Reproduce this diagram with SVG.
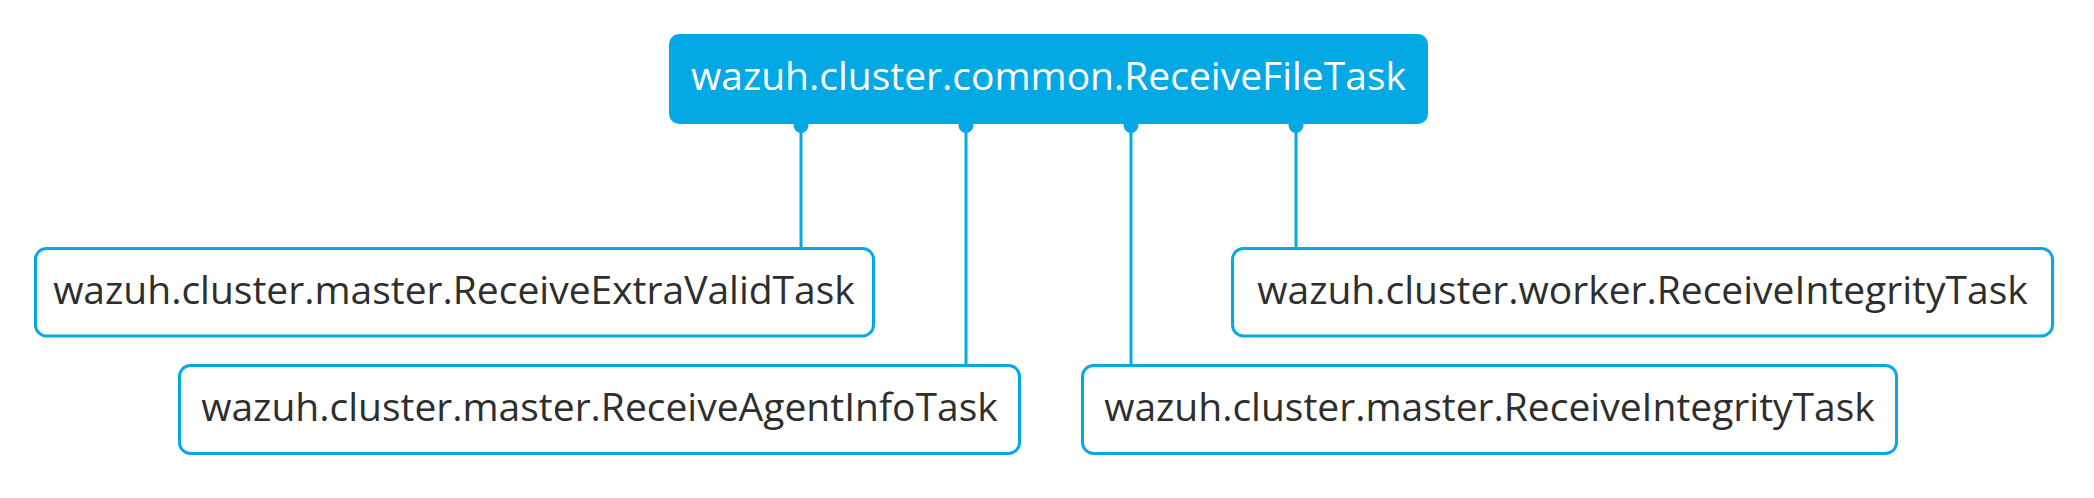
<svg xmlns="http://www.w3.org/2000/svg" width="2094" height="498" viewBox="0 0 2094 498">
  <style>
    .node rect { fill: #ffffff; stroke: #02a9e5; stroke-width: 3; }
    .root rect { fill: #02a9e5; stroke: none; }
    text { font-family: "Open Sans", "Noto Sans", "DejaVu Sans", sans-serif; font-size: 39px; text-anchor: middle; fill: #2e2e2e; }
    .root text { fill: #ffffff; }
    .edge line { stroke: #02a9e5; stroke-width: 3; }
    .edge circle { fill: #02a9e5; }
  </style>
  <rect x="0" y="0" width="2094" height="498" fill="#ffffff"/>
  <g id="connectors" class="edge">
    <line x1="801" y1="124" x2="801" y2="248"/>
    <line x1="966" y1="124" x2="966" y2="365"/>
    <line x1="1131" y1="124" x2="1131" y2="365"/>
    <line x1="1296" y1="124" x2="1296" y2="248"/>
    <circle cx="801" cy="125.5" r="7.5"/>
    <circle cx="966" cy="125.5" r="7.5"/>
    <circle cx="1131" cy="125.5" r="7.5"/>
    <circle cx="1296" cy="125.5" r="7.5"/>
  </g>
  <g id="node-root" class="root">
    <rect x="669" y="34" width="759" height="90" rx="10" ry="10"/>
    <text x="1048.5" y="90">wazuh.cluster.common.ReceiveFileTask</text>
  </g>
  <g id="node-extravalid" class="node">
    <rect x="35.5" y="248.5" width="838" height="87.5" rx="11" ry="11"/>
    <text x="454" y="303.5">wazuh.cluster.master.ReceiveExtraValidTask</text>
  </g>
  <g id="node-agentinfo" class="node">
    <rect x="179.5" y="365.5" width="840" height="88" rx="11" ry="11"/>
    <text x="599.5" y="420.5">wazuh.cluster.master.ReceiveAgentInfoTask</text>
  </g>
  <g id="node-master-integrity" class="node">
    <rect x="1082.5" y="365.5" width="814" height="88" rx="11" ry="11"/>
    <text x="1489.5" y="420.5">wazuh.cluster.master.ReceiveIntegrityTask</text>
  </g>
  <g id="node-worker-integrity" class="node">
    <rect x="1232.5" y="248.5" width="820" height="87.5" rx="11" ry="11"/>
    <text x="1642.5" y="303.5">wazuh.cluster.worker.ReceiveIntegrityTask</text>
  </g>
</svg>
